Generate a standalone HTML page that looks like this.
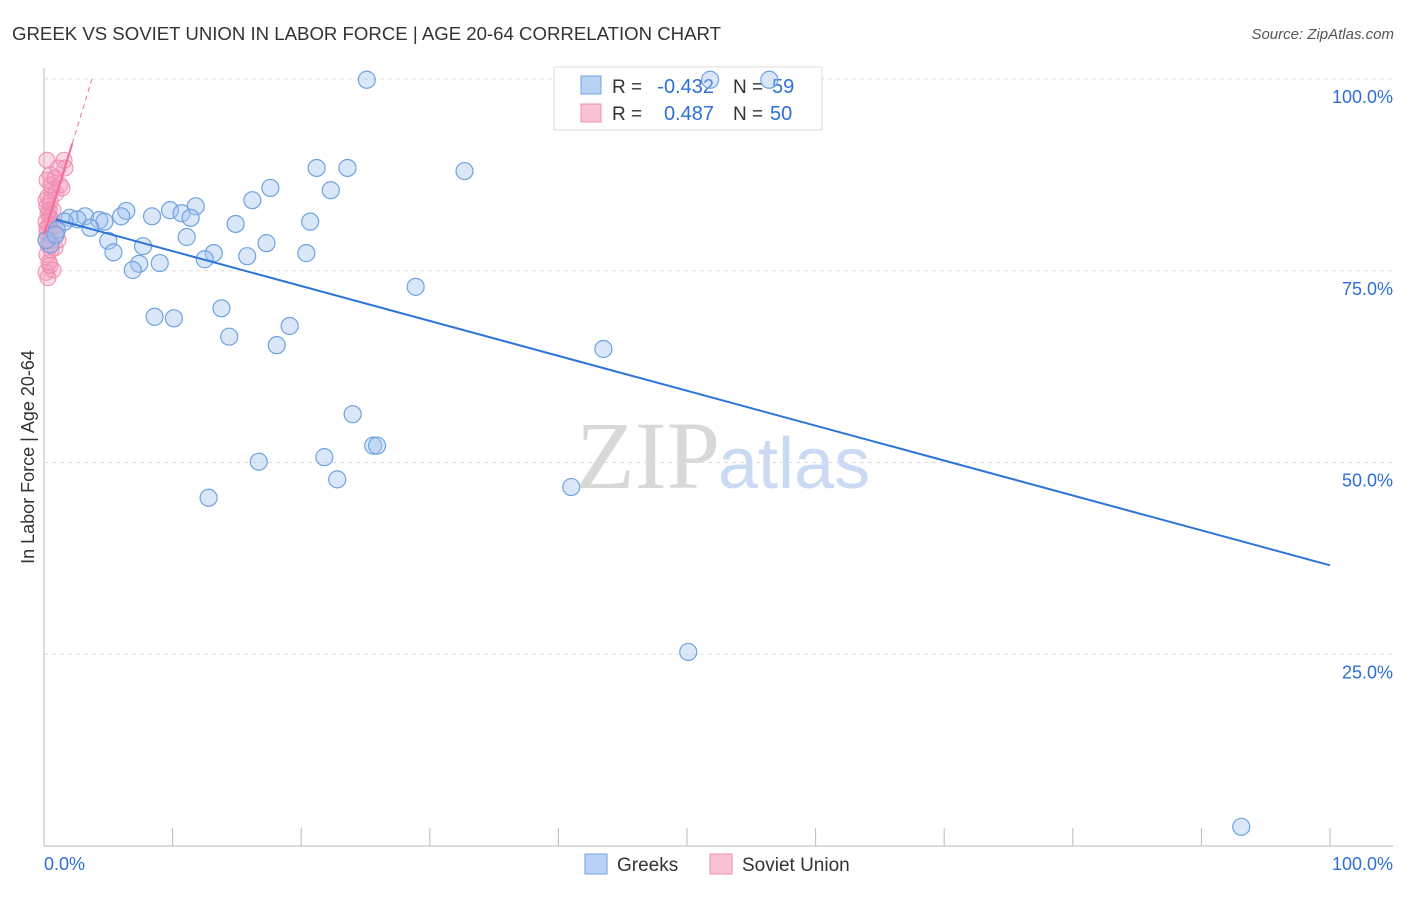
<!DOCTYPE html>
<html><head><meta charset="utf-8"><style>
body{margin:0;background:#fff;font-family:"Liberation Sans",sans-serif}
</style></head><body>
<svg id="c" width="1406" height="892" xmlns="http://www.w3.org/2000/svg" font-family="Liberation Sans, sans-serif">
<text x="12" y="40" font-size="18" fill="#333" textLength="709" lengthAdjust="spacingAndGlyphs">GREEK VS SOVIET UNION IN LABOR FORCE | AGE 20-64 CORRELATION CHART</text>
<text x="1394" y="39" font-size="15" fill="#555" text-anchor="end" font-style="italic">Source: ZipAtlas.com</text>
<text x="720" y="488" font-size="96" fill="#d8d8d8" text-anchor="end" font-family="Liberation Serif, serif">ZIP</text>
<text x="718" y="488" font-size="72" fill="#c9daf2">atlas</text>
<text transform="translate(34,457) rotate(-90)" font-size="18" fill="#333" text-anchor="middle">In Labor Force | Age 20-64</text>
<g id="grid"></g>
<g>
<rect x="554" y="67" width="268" height="63" fill="#fff" stroke="#ddd"/>
<rect x="581" y="76" width="20" height="18" fill="#b9d3f5" stroke="#6fa3e0"/>
<text x="612" y="93" font-size="19" fill="#333">R =</text>
<text x="714" y="93" font-size="20" fill="#2d6fd6" text-anchor="end">-0.432</text>
<text x="733" y="93" font-size="19" fill="#333">N =</text>
<text x="772" y="93" font-size="20" fill="#2d6fd6">59</text>
<rect x="581" y="104" width="20" height="18" fill="#f8c3d4" stroke="#f08cb0"/>
<text x="612" y="120" font-size="19" fill="#333">R =</text>
<text x="714" y="120" font-size="20" fill="#2d6fd6" text-anchor="end">0.487</text>
<text x="733" y="120" font-size="19" fill="#333">N =</text>
<text x="770" y="120" font-size="20" fill="#2d6fd6">50</text>
</g>
<g id="pts"></g><g id="lines"></g>
<g>
<rect x="585" y="854" width="22" height="20" fill="#b9d3f5" stroke="#6fa3e0"/>
<text x="617" y="871" font-size="19" fill="#333">Greeks</text>
<rect x="710" y="854" width="22" height="20" fill="#f8c3d4" stroke="#f08cb0"/>
<text x="742" y="871" font-size="19" fill="#333">Soviet Union</text>
</g>
</svg>
<script>
const yTicks=[25,50,75,100];
const yTickLabels=["25.0%","50.0%","75.0%","100.0%"];
const xTickLabels=["0.0%","100.0%"];
const greekX=[25.1,51.8,56.4,32.7,21.2,23.6,17.6,22.3,16.2,11.8,9.8,6.4,10.7,8.4,6.0,11.4,3.2,2.0,2.6,4.3,4.7,1.6,20.7,14.9,3.6,1.0,11.1,5.0,17.3,7.7,5.4,13.2,20.4,15.8,12.5,7.4,9.0,6.9,28.9,8.6,10.1,13.8,19.1,14.4,18.1,43.5,24.0,25.6,25.9,16.7,21.8,22.8,12.8,41.0,50.1,93.1,0.5,0.2,0.9];
const greekY=[99.9,99.9,99.9,88.0,88.4,88.4,85.8,85.5,84.2,83.4,82.9,82.8,82.5,82.1,82.1,81.9,82.1,81.9,81.7,81.6,81.4,81.4,81.4,81.1,80.6,80.3,79.4,78.9,78.6,78.2,77.4,77.3,77.3,76.9,76.5,75.9,76.0,75.1,72.9,69.0,68.8,70.1,67.8,66.4,65.3,64.8,56.3,52.2,52.2,50.1,50.7,47.8,45.4,46.8,25.3,2.5,78.4,79.0,79.7];
const sovietX=[0.23,1.56,1.63,1.09,0.47,0.23,1.24,0.62,0.93,0.31,0.47,0.23,0.7,0.31,0.47,0.16,0.39,0.62,0.23,0.47,0.16,0.31,0.54,0.23,0.39,0.7,0.16,0.31,0.86,1.09,0.78,1.4,0.86,0.47,0.23,0.62,0.39,0.16,0.54,0.93];
const sovietY=[89.4,89.4,88.4,88.4,87.5,86.8,86.2,85.5,85.1,84.7,84.0,83.4,82.9,82.4,81.9,81.4,80.8,80.3,79.9,79.5,79.0,78.4,77.7,77.1,76.1,75.1,74.8,74.1,78.0,79.0,80.6,85.8,87.1,75.7,80.6,81.6,82.9,84.2,86.2,79.9];
const greekTrend=[0.9,81.7,100,36.6];
const sovietTrend=[0,79.7,2.2,91.6,3.73,100];
const sx=v=>44+v*12.86, sy=v=>846-v*7.67;
const NS="http://www.w3.org/2000/svg";
function mk(t,a,p){const e=document.createElementNS(NS,t);for(const k in a)e.setAttribute(k,a[k]);p.appendChild(e);return e;}
const grid=document.getElementById('grid');
mk('line',{x1:44,y1:68,x2:44,y2:846,stroke:'#bbb'},grid);
mk('line',{x1:44,y1:846,x2:1393,y2:846,stroke:'#bbb'},grid);
yTicks.forEach((t,i)=>{
 const l=mk('line',{x1:44,y1:sy(t),x2:1393,y2:sy(t),stroke:'#ddd','stroke-dasharray':'4,4'},grid);
 
 
 const tx=mk('text',{x:1393,y:sy(t)+24,'font-size':18,fill:'#2d6fd6','text-anchor':'end'},grid);
 tx.textContent=yTickLabels[i];
 
 
});
for(let i=1;i<=10;i++){
 const l=mk('line',{x1:sx(i*10),y1:828,x2:sx(i*10),y2:846,stroke:'#bbb'},grid);
 
 
}
const x0=mk('text',{x:44,y:870,'font-size':18,fill:'#2d6fd6'},grid);x0.textContent=xTickLabels[0];


const x1=mk('text',{x:1393,y:870,'font-size':18,fill:'#2d6fd6','text-anchor':'end'},grid);x1.textContent=xTickLabels[1];


const pts=document.getElementById('pts');
sovietX.forEach((v,i)=>{
 const c=mk('circle',{cx:sx(v),cy:sy(sovietY[i]),r:8,fill:'rgba(244,150,185,0.35)',stroke:'#f08cb0','stroke-width':1},pts);
 
 
});
greekX.forEach((v,i)=>{
 const c=mk('circle',{cx:sx(v),cy:sy(greekY[i]),r:8.5,fill:'rgba(160,196,240,0.4)',stroke:'#6fa3e0','stroke-width':1.2},pts);
 
 
});
const lines=document.getElementById('lines');
const g=mk('line',{x1:sx(greekTrend[0]),y1:sy(greekTrend[1]),x2:sx(greekTrend[2]),y2:sy(greekTrend[3]),stroke:'#2d74d8','stroke-width':2},lines);


const s1=mk('line',{x1:sx(sovietTrend[0]),y1:sy(sovietTrend[1]),x2:sx(sovietTrend[2]),y2:sy(sovietTrend[3]),stroke:'#ee6f98','stroke-width':2},lines);


const s2=mk('line',{x1:sx(sovietTrend[2]),y1:sy(sovietTrend[3]),x2:sx(sovietTrend[4]),y2:sy(sovietTrend[5]),stroke:'#ee6f98','stroke-width':1,'stroke-dasharray':'5,4'},lines);


</script>
</body></html>
